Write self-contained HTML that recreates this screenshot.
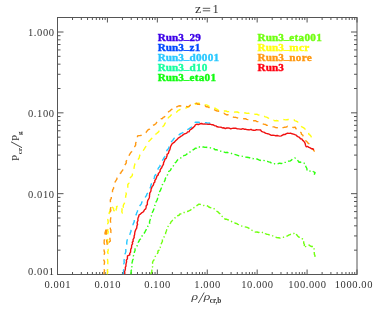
<!DOCTYPE html>
<html><head><meta charset="utf-8"><title>plot</title>
<style>
html,body{margin:0;padding:0;background:#fff;}
body{width:374px;height:311px;overflow:hidden;font-family:"Liberation Serif",serif;}
svg{display:block;will-change:transform;opacity:0.999}
</style></head><body>
<svg width="374" height="311" viewBox="0 0 374 311">
<rect width="374" height="311" fill="#fff"/>
<rect x="57.5" y="17.5" width="299.5" height="257.0" fill="none" stroke="#555" stroke-width="1"/>
<path d="M57.50 274.5v-5M57.50 17.5v5M72.53 274.5v-2.5M72.53 17.5v2.5M81.32 274.5v-2.5M81.32 17.5v2.5M87.55 274.5v-2.5M87.55 17.5v2.5M92.39 274.5v-2.5M92.39 17.5v2.5M96.34 274.5v-2.5M96.34 17.5v2.5M99.68 274.5v-2.5M99.68 17.5v2.5M102.58 274.5v-2.5M102.58 17.5v2.5M105.13 274.5v-2.5M105.13 17.5v2.5M107.42 274.5v-5M107.42 17.5v5M122.44 274.5v-2.5M122.44 17.5v2.5M131.23 274.5v-2.5M131.23 17.5v2.5M137.47 274.5v-2.5M137.47 17.5v2.5M142.31 274.5v-2.5M142.31 17.5v2.5M146.26 274.5v-2.5M146.26 17.5v2.5M149.60 274.5v-2.5M149.60 17.5v2.5M152.50 274.5v-2.5M152.50 17.5v2.5M155.05 274.5v-2.5M155.05 17.5v2.5M157.33 274.5v-5M157.33 17.5v5M172.36 274.5v-2.5M172.36 17.5v2.5M181.15 274.5v-2.5M181.15 17.5v2.5M187.39 274.5v-2.5M187.39 17.5v2.5M192.22 274.5v-2.5M192.22 17.5v2.5M196.18 274.5v-2.5M196.18 17.5v2.5M199.52 274.5v-2.5M199.52 17.5v2.5M202.41 274.5v-2.5M202.41 17.5v2.5M204.97 274.5v-2.5M204.97 17.5v2.5M207.25 274.5v-5M207.25 17.5v5M222.28 274.5v-2.5M222.28 17.5v2.5M231.07 274.5v-2.5M231.07 17.5v2.5M237.30 274.5v-2.5M237.30 17.5v2.5M242.14 274.5v-2.5M242.14 17.5v2.5M246.09 274.5v-2.5M246.09 17.5v2.5M249.43 274.5v-2.5M249.43 17.5v2.5M252.33 274.5v-2.5M252.33 17.5v2.5M254.88 274.5v-2.5M254.88 17.5v2.5M257.17 274.5v-5M257.17 17.5v5M272.19 274.5v-2.5M272.19 17.5v2.5M280.98 274.5v-2.5M280.98 17.5v2.5M287.22 274.5v-2.5M287.22 17.5v2.5M292.06 274.5v-2.5M292.06 17.5v2.5M296.01 274.5v-2.5M296.01 17.5v2.5M299.35 274.5v-2.5M299.35 17.5v2.5M302.25 274.5v-2.5M302.25 17.5v2.5M304.80 274.5v-2.5M304.80 17.5v2.5M307.08 274.5v-5M307.08 17.5v5M322.11 274.5v-2.5M322.11 17.5v2.5M330.90 274.5v-2.5M330.90 17.5v2.5M337.14 274.5v-2.5M337.14 17.5v2.5M341.97 274.5v-2.5M341.97 17.5v2.5M345.93 274.5v-2.5M345.93 17.5v2.5M349.27 274.5v-2.5M349.27 17.5v2.5M352.16 274.5v-2.5M352.16 17.5v2.5M354.72 274.5v-2.5M354.72 17.5v2.5M357.00 274.5v-5M357.00 17.5v5M57.5 274.50h6M357.0 274.50h-6M57.5 250.17h3M357.0 250.17h-3M57.5 235.93h3M357.0 235.93h-3M57.5 225.83h3M357.0 225.83h-3M57.5 218.00h3M357.0 218.00h-3M57.5 211.60h3M357.0 211.60h-3M57.5 206.19h3M357.0 206.19h-3M57.5 201.50h3M357.0 201.50h-3M57.5 197.37h3M357.0 197.37h-3M57.5 193.67h6M357.0 193.67h-6M57.5 169.33h3M357.0 169.33h-3M57.5 155.10h3M357.0 155.10h-3M57.5 145.00h3M357.0 145.00h-3M57.5 137.17h3M357.0 137.17h-3M57.5 130.77h3M357.0 130.77h-3M57.5 125.35h3M357.0 125.35h-3M57.5 120.67h3M357.0 120.67h-3M57.5 116.53h3M357.0 116.53h-3M57.5 112.83h6M357.0 112.83h-6M57.5 88.50h3M357.0 88.50h-3M57.5 74.27h3M357.0 74.27h-3M57.5 64.17h3M357.0 64.17h-3M57.5 56.33h3M357.0 56.33h-3M57.5 49.93h3M357.0 49.93h-3M57.5 44.52h3M357.0 44.52h-3M57.5 39.83h3M357.0 39.83h-3M57.5 35.70h3M357.0 35.70h-3M57.5 32.00h6M357.0 32.00h-6" stroke="#555" stroke-width="1" fill="none"/>
<clipPath id="c"><rect x="57.5" y="17.5" width="299.5" height="257.0"/></clipPath>
<polyline clip-path="url(#c)" points="123.3,274.5 123.3,273.1 123.8,271.8 123.4,270.4 123.9,269.1 123.8,267.7 123.6,266.4 124.1,265.1 123.8,263.7 124.3,262.3 124.0,261.0 124.2,259.6 124.7,258.2 125.2,256.9 124.7,255.5 125.0,254.1 125.5,252.8 125.9,251.4 125.8,250.0 125.8,248.7 126.6,247.5 126.0,246.0 127.0,244.8 126.7,243.4 126.8,242.1 127.0,240.8 127.4,239.4 128.4,238.3 128.5,236.7 129.4,235.5 130.0,234.2 130.3,232.8 131.0,231.5 131.0,230.1 131.4,228.8 132.0,227.5 132.8,226.3 133.0,224.9 133.3,223.6 134.0,222.3 134.3,221.0 134.5,219.6 135.4,218.3 135.7,216.9 135.7,215.4 136.4,214.1 136.7,212.8 137.4,211.5 137.7,210.1 138.1,208.7 139.4,207.7 139.5,206.1 140.4,205.0 141.4,203.9 141.7,202.3 142.7,201.3 143.1,199.9 144.3,198.9 145.1,197.8 145.7,196.5 146.6,195.4 146.9,193.9 148.0,192.9 148.4,191.6 148.9,190.3 149.3,189.0 150.1,187.9 150.7,186.7 150.8,185.3 151.4,184.1 151.4,182.7 152.5,181.6 152.9,180.4 153.8,179.2 154.3,177.9 154.5,176.4 155.2,175.2 156.1,174.1 156.2,172.5 157.1,171.4 157.5,170.1 158.1,168.8 158.7,167.5 159.9,166.6 160.1,165.0 160.8,163.8 161.5,162.7 162.6,161.6 162.6,160.1 163.4,158.9 164.0,157.7 164.8,156.6 165.3,155.3 165.8,154.0 165.9,152.6 166.5,151.4 167.1,150.1 168.2,149.0 168.9,147.8 168.9,146.2 169.5,145.0 170.2,143.7 170.8,142.5 171.7,141.3 172.7,140.4 173.5,139.2 174.3,138.1 175.6,137.4 176.5,136.4 177.7,135.6 178.8,135.0 179.9,134.1 181.1,133.3 182.5,132.8 183.6,132.0 184.5,130.8 186.1,130.6 187.1,129.7 188.4,129.1 189.6,128.4 190.7,127.5 191.9,126.8 192.5,125.6 193.7,124.8 194.2,123.4 195.3,122.2 196.8,122.3 198.3,122.3 199.8,122.5 201.4,122.3 203.0,122.5 204.6,122.7 206.2,122.8 207.7,123.1 209.2,122.9 210.5,123.7 212.1,124.4 213.7,124.9 215.0,126.0" fill="none" stroke="#28c8ff" stroke-width="1.4" stroke-linejoin="round" stroke-dasharray="5.5 5"/>
<polyline clip-path="url(#c)" points="130.8,274.5 131.0,273.2 131.2,271.9 131.1,270.6 131.9,269.4 132.2,268.1 131.9,266.8 132.1,265.5 131.9,264.1 132.0,262.8 132.4,261.6 132.5,260.3 133.3,259.0 133.1,257.4 133.3,256.0 134.4,254.8 134.4,253.3 134.4,251.8 135.1,250.5 135.0,249.0 135.7,247.7 136.7,246.7 137.3,245.4 137.8,244.1 138.1,242.6 138.9,241.4 139.4,240.1 140.5,239.1 141.0,237.9 141.9,236.9 142.2,235.5 142.8,234.4 143.9,233.5 144.7,232.5 145.3,231.3 145.9,230.1 146.7,228.9 147.5,227.6 147.9,226.1 148.9,225.0 149.6,223.7 149.5,222.1 149.8,220.7 150.3,219.2 150.6,217.7 151.2,216.3 151.7,214.9 151.8,213.2 152.8,211.7 153.4,210.2 153.9,208.9 154.0,207.4 154.5,206.1 155.1,204.9 155.4,203.6 155.9,202.2 156.6,201.0 157.3,199.7 157.6,198.3 157.7,196.9 158.3,195.6 158.8,194.2 158.7,192.6 159.7,191.6 160.4,190.4 160.9,189.1 161.4,187.9 161.8,186.5 162.1,185.1 163.1,184.1 163.3,182.7 164.2,181.6 165.0,180.4 165.2,179.0 165.8,177.7 166.9,176.7 167.4,175.3 167.6,173.9 168.2,172.6 168.8,171.3 170.3,170.5 171.0,169.2 171.4,167.6 172.7,166.7 173.7,165.5 174.3,164.1 175.1,162.9 176.2,162.0 177.0,160.7 177.9,159.6 179.4,159.2 180.5,158.2 181.6,157.2 183.0,156.7 184.0,155.4 185.4,155.2 186.5,154.5 187.5,153.4 188.7,152.8 189.8,152.1 190.9,151.3 192.1,150.8 193.1,149.8 194.3,149.2 195.2,148.2 196.7,148.1 197.6,146.9 199.1,147.0 200.6,147.1 202.0,147.4 203.5,146.9 204.9,147.4 206.3,147.3 207.6,147.6 208.8,147.9 210.2,147.8 211.4,148.4 212.8,148.5 214.1,148.7 215.1,149.8 216.6,149.6 217.7,150.3 218.9,150.9 220.2,151.1 221.5,151.2 222.9,151.7 224.3,152.1 225.7,152.6 227.2,152.3 228.6,153.0 230.0,153.1 231.4,153.4 232.7,154.1 234.2,154.3 235.6,154.7 237.0,155.2 238.4,155.7 240.0,155.6 241.3,156.1 242.8,156.4 244.2,156.7 245.6,157.1 247.0,157.2 248.4,157.5 249.8,157.8 251.1,158.5 252.6,158.5 253.9,159.0 255.3,159.3 257.0,159.0 258.4,159.6 259.9,160.3 261.4,160.6 263.1,160.3 264.5,160.7 265.8,161.3 267.3,161.4 268.7,161.9 270.1,162.1 271.2,163.0 272.4,163.5 273.6,164.0 275.0,163.7 276.5,164.0 278.1,163.7 279.5,163.1 281.1,163.5 282.7,163.4 284.0,162.3 285.7,162.4 287.0,161.5 288.5,161.1 290.2,161.0 291.4,160.2 292.4,159.0 293.7,158.6 295.0,158.0 296.1,158.9 297.2,159.8 298.1,160.9 298.9,162.2 300.4,162.0 301.5,162.8 302.7,163.1 304.1,163.2 305.3,164.0 305.5,165.6 306.1,167.1 306.9,168.5 307.0,170.6 308.5,170.6 310.0,171.0 311.7,170.4 313.2,171.5 315.1,172.7 314.4,174.1 314.9,175.6 314.7,177.0" fill="none" stroke="#30ff10" stroke-width="1.4" stroke-linejoin="round" stroke-dasharray="5 2.5 1.3 2.5"/>
<polyline clip-path="url(#c)" points="150.7,274.4 151.1,273.2 151.8,272.0 151.9,270.6 151.6,269.3 151.7,268.0 152.6,266.8 152.5,265.4 152.8,264.1 152.5,262.7 153.0,261.1 154.1,259.8 154.4,258.2 155.0,256.6 156.4,255.6 157.0,254.1 158.0,252.7 157.9,251.1 159.1,250.1 159.0,248.5 160.2,247.4 160.4,245.9 160.9,244.6 161.6,243.0 162.4,241.5 162.4,239.6 162.9,238.4 163.9,237.4 164.3,236.2 164.9,235.0 165.5,233.9 165.7,232.6 166.2,231.4 166.6,230.2 166.9,228.9 167.6,227.8 168.0,226.5 169.0,225.4 169.6,224.1 170.5,223.1 171.1,221.7 172.2,220.7 173.0,219.5 174.4,218.8 175.3,217.5 176.1,216.2 177.5,215.7 179.0,215.3 179.9,214.0 181.5,213.9 182.7,212.8 184.0,212.5 185.4,212.4 186.6,211.6 188.0,211.3 189.3,210.7 190.6,210.1 191.4,208.9 192.8,208.5 193.9,207.7 195.1,206.9 196.3,205.9 197.5,205.1 198.9,204.1 200.4,204.4 202.0,204.6 203.4,205.5 205.1,205.3 206.4,205.6 207.7,206.0 208.8,207.0 210.0,207.5 211.4,207.7 212.8,207.8 214.1,208.8 215.3,209.9 216.5,211.0 217.9,211.8 218.8,212.9 220.0,213.8 220.6,215.2 221.7,216.2 223.0,216.9 224.3,217.7 225.0,219.2 226.5,219.2 227.8,219.8 229.1,220.0 230.3,220.9 231.5,221.5 232.7,222.1 234.1,222.4 235.3,223.2 236.7,223.5 237.9,224.3 239.2,224.8 240.4,225.7 241.7,226.0 243.2,226.3 244.7,226.8 246.3,227.1 247.8,227.7 249.1,228.4 250.2,229.3 251.5,230.0 252.8,230.8 254.0,231.7 255.4,232.1 257.0,232.0 258.6,232.5 260.1,231.7 261.6,232.2 262.9,232.6 264.4,232.5 265.4,233.7 266.6,234.2 267.9,234.4 269.2,234.9 270.4,235.5 272.1,235.5 273.5,236.4 275.0,237.0 276.6,237.5 278.3,237.7 280.1,238.0 281.5,237.4 283.1,237.4 284.6,236.8 286.1,236.5 287.5,235.8 288.7,235.1 289.9,234.6 291.2,234.2 292.4,233.5 293.9,233.5 295.0,232.7 295.9,233.9 296.9,235.0 297.9,236.2 299.0,237.2 300.6,237.4 301.8,238.6 303.2,239.0 303.6,240.5 303.7,241.9 303.8,243.4 304.5,244.8 304.0,246.3 304.3,247.5 305.4,246.7 306.6,246.3 307.9,246.0 309.1,245.0 310.2,245.9 311.4,246.5 312.8,246.5 314.1,247.0 314.1,248.5 314.0,250.0 314.1,251.4 314.3,252.9 314.4,254.4 315.0,255.8 314.7,257.3" fill="none" stroke="#70ff10" stroke-width="1.4" stroke-linejoin="round" stroke-dasharray="5 2.5 1.3 2.5"/>
<polyline clip-path="url(#c)" points="107.3,274.5 107.4,273.2 107.8,271.8 107.4,270.5 107.7,269.2 107.2,267.9 107.3,266.5 107.4,265.2 107.8,263.9 107.8,262.6 107.8,261.2 107.5,259.9 107.7,258.6 107.7,257.2 107.7,255.9 107.4,254.6 108.1,253.3 107.5,251.9 108.2,250.6 108.1,249.3 107.3,248.0 107.7,246.6 108.1,245.3 108.2,244.0 107.7,242.7 107.6,241.3 107.5,240.0 108.2,238.6 107.6,237.3 107.9,235.9 107.5,234.6 107.9,233.2 108.3,231.9 107.6,230.5 108.2,229.1 107.9,227.8 108.3,226.4 108.1,225.1 107.7,223.7 108.3,222.4 108.0,221.0 107.8,219.6 108.1,218.3 108.7,217.0 109.0,215.7 109.1,214.3 109.2,212.9 109.8,211.5 110.1,210.0 111.0,208.6 110.7,206.9 111.3,205.6 112.1,207.1 113.5,208.3 113.7,210.2 114.8,211.6 116.4,213.0 115.9,211.7 116.1,210.4 116.2,209.1 116.8,207.8 116.5,206.6 118.5,205.9 119.8,206.4 121.2,207.0 121.8,208.4 122.1,209.9 121.8,211.6 122.3,213.0 123.1,211.7 122.7,210.2 122.9,208.8 123.3,207.4 123.2,205.9 123.6,204.6 124.4,203.4 124.6,202.1 124.8,200.7 124.9,199.4 125.4,198.1 125.7,196.8 125.8,195.4 126.3,194.2 126.1,192.8 127.0,191.6 127.2,190.3 127.7,188.9 127.8,187.5 127.8,186.0 127.8,184.5 128.9,183.2 128.4,181.7 129.0,180.3 129.6,179.0 130.3,177.7 131.4,176.6 132.3,175.5 132.5,173.9 133.2,172.6 133.2,171.1 133.8,169.7 134.0,168.3 134.2,166.8 134.5,165.4 135.0,163.9 136.2,162.9 136.7,161.4 137.2,160.0 138.4,159.0 139.2,157.8 139.5,156.3 140.0,154.8 141.0,153.6 141.9,152.3 143.0,151.2 143.7,149.8 144.5,148.6 145.2,147.4 146.2,146.3 147.2,145.2 147.8,143.9 148.2,142.5 148.9,141.2 150.0,140.3 150.9,139.3 151.8,138.3 152.6,137.1 153.7,136.3 155.1,135.8 155.5,134.3 156.7,133.5 157.7,132.6 158.7,131.8 159.2,130.4 160.1,129.4 161.0,128.4 161.9,127.5 162.9,126.6 164.0,125.5 164.6,124.2 165.3,123.0 165.4,121.4 166.1,120.1 167.3,119.2 168.1,118.1 169.0,117.0 170.1,116.3 170.9,115.1 172.2,114.6 173.6,114.2 174.7,113.3 175.8,112.5 176.9,111.9 177.9,110.7 179.1,110.0 180.3,109.4 181.7,109.1 183.0,108.7 185.2,108.6 186.3,107.8 187.6,107.1 188.9,106.6 190.0,105.8 191.3,105.2 192.4,104.4 193.9,104.6 195.0,103.8 196.5,104.0 197.6,103.3 199.1,103.3 200.6,103.5 202.1,103.9 203.5,104.5 204.9,104.9 206.4,104.9 207.7,105.3 208.8,106.2 210.1,106.8 211.5,107.1 212.8,107.5 213.9,108.3 215.4,108.3 216.5,109.1 217.7,109.7 218.8,110.7 220.2,110.9 221.6,111.2 223.1,111.0 224.5,110.9 226.0,111.0 227.4,111.7 228.8,111.6 230.3,111.3 231.7,111.2 233.1,111.8 234.5,112.1 235.9,112.0 237.3,112.0 238.6,112.5 240.0,112.9 241.4,112.4 242.8,112.4 244.2,112.8 245.6,113.0 247.0,113.4 248.4,113.1 249.8,113.7 251.2,113.8 252.6,113.7 254.0,113.6 255.3,114.4 256.9,114.2 258.2,115.0 259.7,114.8 261.2,115.2 262.5,116.0 264.0,116.0 265.2,116.8 266.6,117.2 267.9,117.8 269.0,118.5 270.0,119.4 271.2,120.0 272.4,120.6 273.8,120.3 275.0,120.9 276.5,120.5 278.1,120.9 279.5,120.0 281.0,119.6 282.6,119.4 284.1,119.6 285.6,119.9 287.0,119.7 288.5,119.5 290.0,119.6 291.3,119.4 292.7,119.4 294.0,119.7 295.0,120.9 296.2,121.1 297.7,121.9 298.2,123.5 299.3,124.5 300.3,125.7 301.5,126.6 302.9,127.4 304.2,128.2 305.3,129.3 306.5,130.3 307.0,131.9 308.6,132.7 308.9,134.4 310.4,135.3 311.1,136.5 311.5,137.9 312.2,139.1 313.3,140.1 314.0,141.3" fill="none" stroke="#ffff10" stroke-width="1.4" stroke-linejoin="round" stroke-dasharray="5.5 5"/>
<polyline clip-path="url(#c)" points="103.8,274.5 104.2,273.2 104.1,271.9 104.6,270.6 103.9,269.2 104.1,267.9 104.6,266.6 103.8,265.3 104.2,264.0 104.5,262.7 104.5,261.4 103.8,260.1 103.8,258.7 103.9,257.4 104.6,256.1 104.0,254.8 104.5,253.5 104.6,252.2 104.1,250.9 104.1,249.6 104.7,248.3 104.4,246.9 104.1,245.6 104.5,244.3 104.1,243.0 104.2,241.6 104.2,240.2 105.0,238.9 105.3,237.5 105.2,236.1 105.6,234.8 104.9,233.3 105.3,232.0 105.8,230.3 106.5,228.7 106.0,227.0 106.5,228.4 106.7,229.7 106.6,231.1 106.6,232.4 106.2,233.8 106.9,235.1 106.4,236.5 106.5,237.9 106.5,239.2 106.6,240.6 106.8,241.9 107.1,243.3 107.1,244.6 106.9,245.9 108.0,244.9 108.3,243.3 109.2,242.1 110.4,241.0 110.0,239.6 109.9,238.3 109.9,236.9 110.4,235.5 110.2,234.2 110.9,232.8 110.8,231.5 110.9,230.1 110.3,228.7 110.2,227.4 110.2,226.0 110.6,224.7 110.8,223.4 110.6,222.1 110.4,220.8 110.5,219.5 110.7,218.2 110.8,216.9 110.8,215.6 110.9,214.3 110.7,213.0 110.3,211.7 110.9,210.4 110.4,209.1 110.7,207.8 110.5,206.5 110.8,205.2 110.3,203.9 110.4,202.6 110.4,201.3 110.3,199.9 111.2,198.7 111.3,197.3 111.3,196.0 111.7,194.4 112.5,192.9 112.5,191.4 112.6,189.9 113.5,188.6 113.7,187.2 114.4,185.9 114.0,184.2 114.7,182.9 115.3,181.6 116.1,180.4 116.9,179.2 117.0,177.5 118.0,176.4 118.6,175.0 119.5,173.8 120.9,172.9 121.5,171.5 122.6,170.4 123.0,168.9 124.2,167.8 124.4,166.4 124.7,165.1 125.6,164.0 126.3,162.8 126.1,161.2 127.1,160.2 127.8,158.9 128.1,157.5 128.8,156.3 129.3,155.0 130.0,153.8 130.8,152.5 131.9,151.4 132.8,150.2 133.3,148.7 134.0,147.3 135.0,146.3 135.7,144.9 135.6,143.4 136.1,142.0 136.4,140.5 137.2,139.2 137.4,137.7 137.6,135.9 138.9,135.6 140.2,135.5 141.5,135.3 142.8,135.0 143.7,134.2 144.7,133.3 145.9,132.7 146.6,131.6 147.5,130.5 148.4,129.6 149.7,129.0 150.2,127.7 151.4,127.0 152.4,125.9 153.5,125.1 154.8,124.5 155.9,123.7 156.7,122.4 157.6,121.4 159.0,120.9 159.8,119.7 160.8,118.8 162.4,118.6 163.2,117.4 164.5,116.9 165.3,115.7 166.6,115.0 167.2,113.8 168.0,112.6 168.8,111.5 170.1,110.8 171.1,109.8 172.2,109.0 172.8,107.3 174.3,107.5 175.7,106.9 177.2,106.7 178.5,106.0 180.0,105.8 181.5,106.1 183.0,106.6 184.5,105.9 186.0,106.4 187.6,106.8 188.9,106.5 189.9,105.4 191.2,104.9 192.7,105.2 193.9,104.8 195.0,103.9 196.4,103.1 197.6,104.3 199.2,104.2 200.5,105.1 202.1,105.3 203.5,105.9 205.1,105.7 206.2,106.8 207.6,106.8 208.9,107.5 210.0,108.4 211.3,109.0 212.8,109.0 214.0,109.5 215.2,110.2 216.4,110.8 217.7,111.1 219.1,111.4 220.3,111.9 221.4,112.8 222.6,113.4 224.1,113.2 225.2,114.1 226.4,114.7 227.9,114.6 228.9,115.7 230.3,115.6 231.5,116.4 232.7,116.9 234.0,117.4 235.4,117.3 236.8,117.7 238.2,118.0 239.7,118.1 241.0,118.5 242.5,118.5 243.9,118.7 245.4,118.6 246.7,119.4 248.2,119.6 249.7,119.6 251.0,120.4 252.5,120.7 254.0,120.7 255.5,120.7 256.7,121.5 258.0,121.6 259.3,122.1 260.5,122.9 261.8,123.1 263.0,123.8 264.2,124.4 265.6,124.5 266.7,125.4 268.1,125.4 269.4,126.4 270.9,126.8 272.5,126.9 274.1,126.9 275.7,127.6 277.5,127.7 279.0,128.0 280.3,127.1 281.9,127.6 283.3,127.6 284.7,127.2 286.2,127.1 287.6,126.3 289.0,127.2 290.6,126.9 292.0,127.4 293.5,127.5 295.2,127.1 295.8,128.4 296.7,129.3 298.3,129.6 299.1,130.6 299.8,131.7 301.2,132.7 301.5,134.3 302.9,135.3 303.1,136.7 304.3,137.6 304.7,138.9 305.0,140.3 306.2,141.1 307.2,142.1 308.1,143.2 309.3,144.0 310.5,144.8 311.2,145.9 311.9,147.0 312.1,148.4 313.1,149.4 313.7,150.5 314.7,151.4" fill="none" stroke="#ff9810" stroke-width="1.4" stroke-linejoin="round" stroke-dasharray="5.5 5"/>
<polyline clip-path="url(#c)" points="124.1,274.5 124.9,273.1 124.5,271.6 125.1,270.2 125.4,268.8 125.3,267.4 126.0,266.0 125.9,264.6 126.2,263.1 126.6,261.8 126.3,260.2 127.4,258.9 127.4,257.5 127.5,255.9 129.8,254.8 129.7,253.3 130.6,252.1 130.6,250.6 130.8,249.2 131.5,247.9 131.6,246.5 131.7,245.1 132.6,243.8 132.3,242.3 133.2,241.2 133.0,239.8 133.6,238.6 134.2,237.4 134.1,236.0 134.6,234.7 134.7,233.3 134.9,232.0 135.3,230.7 135.9,229.4 136.7,228.2 136.8,226.9 137.0,225.6 137.6,224.4 137.1,223.0 137.4,221.7 138.0,220.5 137.8,219.1 138.1,217.8 138.7,216.6 139.0,215.0 140.4,214.1 141.6,212.9 143.1,212.0 143.9,211.0 144.5,209.8 145.7,208.9 146.1,207.4 146.2,205.8 147.4,204.6 147.3,202.9 147.5,201.7 147.8,200.4 148.6,199.2 149.2,198.0 149.5,196.7 149.5,195.4 149.7,194.1 149.8,192.8 150.7,191.6 151.0,190.3 151.1,189.0 151.7,187.9 152.1,186.6 153.1,185.6 153.6,184.3 153.8,183.0 154.9,182.0 154.8,180.5 155.7,179.5 156.2,178.3 156.7,177.1 157.1,175.8 158.3,174.9 158.3,173.4 159.3,172.4 160.2,171.4 160.1,169.9 160.8,168.8 161.7,167.7 162.1,166.5 162.8,165.4 163.5,164.2 163.5,162.8 164.1,161.7 164.6,160.5 164.9,159.2 166.2,158.3 166.6,157.1 167.1,155.8 167.0,154.4 168.3,153.5 168.7,152.3 169.0,151.0 169.8,149.9 170.1,148.6 170.4,147.3 170.8,146.1 171.5,144.8 172.2,143.7 173.3,142.9 174.5,142.1 175.3,141.1 176.2,140.2 177.3,139.3 178.2,138.1 179.5,137.4 180.6,136.4 181.9,135.8 183.0,134.9 184.1,134.0 185.4,133.6 186.7,133.2 187.6,131.9 189.1,131.7 189.9,130.0 191.3,129.1 192.5,128.1 193.7,127.1 194.8,126.0 195.3,124.8 196.9,124.2 198.5,124.5 200.1,123.8 201.7,123.5 203.0,124.1 204.3,123.9 205.6,124.1 206.9,124.1 208.1,124.4 209.9,124.2 211.6,124.7 213.2,124.8 214.5,125.6 215.9,125.9 217.2,126.8 218.5,127.0 220.0,127.1 221.3,127.3 222.6,128.0 224.0,127.8 225.3,128.6 226.7,128.0 228.0,127.9 229.4,128.1 230.7,128.9 232.1,128.4 233.4,128.3 234.8,128.2 236.1,128.3 237.4,128.9 238.8,128.9 240.1,129.1 241.4,129.2 242.8,128.6 244.1,129.2 245.5,129.1 246.8,129.6 248.2,129.7 249.5,129.9 251.0,129.3 252.3,130.1 253.6,130.2 255.0,130.4 256.4,129.7 257.7,129.9 259.1,129.9 260.6,130.0 261.5,131.3 262.7,131.8 263.9,132.2 265.1,133.0 266.3,133.4 267.7,133.7 269.0,134.1 270.0,134.6 271.4,135.4 272.9,135.1 274.3,135.4 275.7,135.7 277.2,135.5 278.6,135.9 279.9,136.1 281.3,135.9 282.5,135.1 283.7,134.5 285.2,134.5 286.3,133.6 287.5,133.3 289.1,133.4 290.6,133.2 292.1,133.8 293.5,134.1 294.9,134.7 296.2,135.2 297.1,136.2 298.3,136.9 299.5,137.4 300.3,138.7 301.8,138.9 302.5,140.1 303.7,141.1 304.6,142.3 305.2,143.6 305.5,145.2 306.2,146.7 307.8,146.4 308.9,147.4 310.2,147.9 311.4,148.7 312.8,148.8 314.0,149.6" fill="none" stroke="#f01010" stroke-width="1.4" stroke-linejoin="round"/>
<g font-family="Liberation Serif, serif" font-size="10.5" letter-spacing="0.6" fill="#333"><text x="57.8" y="288.3" text-anchor="middle">0.001</text><text x="107.7" y="288.3" text-anchor="middle">0.010</text><text x="157.6" y="288.3" text-anchor="middle">0.100</text><text x="207.6" y="288.3" text-anchor="middle">1.000</text><text x="257.5" y="288.3" text-anchor="middle">10.000</text><text x="307.4" y="288.3" text-anchor="middle">100.000</text><text x="353.9" y="288.3" text-anchor="middle">1000.00</text><text x="54.6" y="275.0" text-anchor="end">0.001</text><text x="54.6" y="197.5" text-anchor="end">0.010</text><text x="54.6" y="116.6" text-anchor="end">0.100</text><text x="54.6" y="35.7" text-anchor="end">1.000</text></g>
<g font-family="Liberation Serif, serif" font-size="12.5" fill="#333"><text transform="translate(195.1,12.7) scale(1.12,1)">z</text><path d="M202.8 8.3h7.4M202.8 10.8h7.4" stroke="#333" stroke-width="0.8" fill="none"/><text x="212.6" y="12.7">1</text></g>
<g font-family="Liberation Serif, serif" fill="#333"><text transform="translate(191.4,299.8) scale(1.2,0.95)" font-size="11.5" font-style="italic" fill="#444">ρ</text><text transform="translate(203.8,299.8) scale(1.2,0.95)" font-size="11.5" font-style="italic" fill="#444">ρ</text><line x1="198.3" y1="303" x2="204.2" y2="292.5" stroke="#444" stroke-width="0.9"/><text x="209.8" y="302.6" font-size="7.2" font-weight="bold">cr,b</text></g>
<g transform="translate(19.2,161) rotate(-90)" font-family="Liberation Serif, serif" fill="#333"><text x="0" y="0" font-size="11">P</text><text x="6.8" y="2.8" font-size="7" font-weight="bold">cr</text><line x1="13.3" y1="2.8" x2="19.2" y2="-8.2" stroke="#333" stroke-width="0.9"/><text x="20" y="0" font-size="11">P</text><text x="26" y="2.3" font-size="7" font-weight="bold">g</text></g>
<g font-family="Liberation Serif, serif" font-weight="bold" font-size="10" stroke-width="0.35"><text transform="translate(157.7,41.3) scale(1.12,1)" fill="#3c00e8" stroke="#3c00e8">Run3<tspan dy="-2">_</tspan><tspan dy="2" letter-spacing="0.25">29</tspan></text><text transform="translate(157.7,51.1) scale(1.12,1)" fill="#0048ff" stroke="#0048ff">Run3<tspan dy="-2">_</tspan><tspan dy="2" letter-spacing="0.25">z1</tspan></text><text transform="translate(157.7,60.9) scale(1.12,1)" fill="#28c8ff" stroke="#28c8ff">Run3<tspan dy="-2">_</tspan><tspan dy="2" letter-spacing="0.25">d0001</tspan></text><text transform="translate(157.7,70.7) scale(1.12,1)" fill="#18ffa0" stroke="#18ffa0">Run3<tspan dy="-2">_</tspan><tspan dy="2" letter-spacing="0.25">d10</tspan></text><text transform="translate(157.7,80.5) scale(1.12,1)" fill="#10fc10" stroke="#10fc10">Run3<tspan dy="-2">_</tspan><tspan dy="2" letter-spacing="0.25">eta01</tspan></text><text transform="translate(257.6,41.3) scale(1.12,1)" fill="#70ff10" stroke="#70ff10">Run3<tspan dy="-2">_</tspan><tspan dy="2" letter-spacing="0.25">eta001</tspan></text><text transform="translate(257.6,51.1) scale(1.12,1)" fill="#ffff10" stroke="#ffff10">Run3<tspan dy="-2">_</tspan><tspan dy="2" letter-spacing="0.25">mcr</tspan></text><text transform="translate(257.6,60.9) scale(1.12,1)" fill="#ff9810" stroke="#ff9810">Run3<tspan dy="-2">_</tspan><tspan dy="2" letter-spacing="0.25">nore</tspan></text><text transform="translate(257.6,70.7) scale(1.12,1)" fill="#ff0010" stroke="#ff0010">Run3</text></g>
</svg>
</body></html>
